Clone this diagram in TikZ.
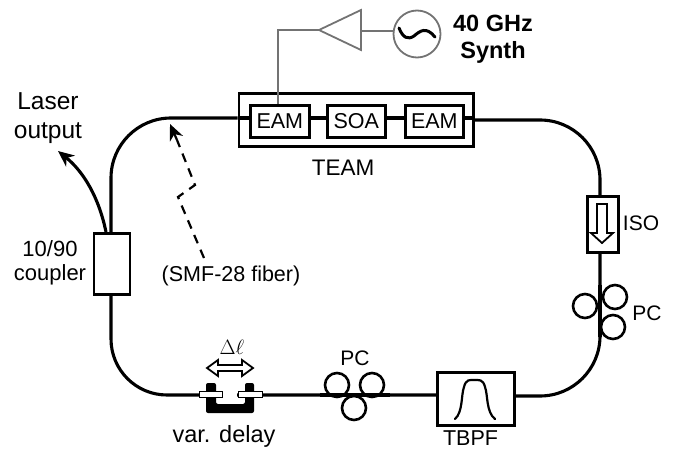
\documentclass[tikz,border=0pt]{standalone}
\usepackage{fontspec}
\setmainfont{Liberation Sans}
\usetikzlibrary{arrows.meta}
\newcommand{\fsz}[1]{\fontsize{#1}{#1}\selectfont}
\tikzset{
  x=1pt,y=-1pt,
  lbl/.style={inner sep=0pt,align=center,font=\fsz{21}},
  fiber/.style={line width=3.1pt,black},
  boxn/.style={draw,line width=2.6pt,fill=white,inner sep=0pt,anchor=north west},
  ring/.style={draw,circle,line width=2.6pt,minimum size=24pt,inner sep=0pt},
  rf/.style={line width=1.8pt,black!55},
  tipb/.style={-{Stealth[length=16pt,width=14pt,inset=5pt]}},
  hollow/.style={draw,line width=1.8pt,fill=white,line join=miter}
}
\begin{document}
\begin{tikzpicture}
\useasboundingbox (0,0) rectangle (674,449);
% named points
\coordinate (tl) at (111,118);
\coordinate (tr) at (600,120);
\coordinate (br) at (600,396);
\coordinate (bl) at (111,395);
% boxes
\node[boxn,minimum width=234.5pt,minimum height=53pt] (team) at (237.5,92) {};
\node[boxn,minimum width=59pt,minimum height=32pt,font=\fsz{21.5}] (eama) at (249,104) {EAM};
\node[boxn,minimum width=58pt,minimum height=32pt,font=\fsz{21.5}] (soa) at (326,104) {SOA};
\node[boxn,minimum width=58pt,minimum height=32pt,font=\fsz{21.5}] (eamb) at (404,104) {EAM};
\node[boxn,minimum width=31pt,minimum height=56pt] (iso) at (586,195) {};
\node[boxn,minimum width=77pt,minimum height=53pt] (tbpf) at (436,371) {};
\node[boxn,minimum width=36pt,minimum height=61pt] (coup) at (92.5,232) {};
% fiber loop
\draw[fiber] (eama.west |- tl) -- (team.west |- tl);
\draw[fiber] (eama.east |- tl) -- (soa.west |- tl);
\draw[fiber] (soa.east |- tl) -- (eamb.west |- tl);
\draw[fiber] (eamb.east |- tl) -- (team.east |- tl);
\draw[fiber,rounded corners=60pt] (coup.north -| tl) -- (tl) -- (team.west |- tl);
\draw[fiber,rounded corners=60pt] (team.east |- tr) -- (tr) -- (iso.north -| tr);
\draw[fiber,rounded corners=60pt] (iso.south -| tr) -- (br) -- (tbpf.east |- br);
\draw[fiber,rounded corners=56pt] (coup.south -| bl) -- (bl) -- (tbpf.west |- bl);
% output arrow
\draw[line width=3.1pt,tipb] (106,232) .. controls (99,198) and (84,172) .. (58,151);
% dashed arrow
\node[lbl,font=\fsz{21.5}] (smf) at (231,276) {(SMF-28 fiber)};
\coordinate (da) at (178,197);
\coordinate (db) at (195,185);
\coordinate (dc) at (170,124);
\draw[line width=2.2pt,dash pattern=on 9pt off 7pt] (204,258) -- (da) -- (db) -- (177,140);
\draw[line width=2.2pt,tipb] (177,140) -- (dc);
% RF chain
\node[draw,circle,rf,minimum size=47pt,inner sep=0pt] (syn) at (417,34) {};
\coordinate (ampt) at (319,30);
\coordinate (ampa) at (361,10);
\coordinate (ampb) at (361,50);
\draw[rf,line join=miter] (ampt) -- (ampa) -- (ampb) -- cycle;
\draw[rf] (ampt) -- (278,30) -- (278,104);
\draw[rf] (361,31) -- (394,31);
\draw[line width=3pt,line cap=round] (399,28) .. controls (403,38) and (408,40) .. (414,36) .. controls (420,31) and (426,26) .. (435,37);
% PCs
\node[ring] (pa) at (337,385) {};
\node[ring] (pb) at (372,385) {};
\node[ring] (pc) at (354,408) {};
\node[ring] (pd) at (585,306) {};
\node[ring] (pe) at (615,297) {};
\node[ring] (pf) at (613,327) {};
\draw[fiber] (320,395) -- (390,395);
\draw[fiber] (600,285) -- (600,337);
% var delay
\fill[white] (223,388) rectangle (237,400);
\fill[black,rounded corners=2pt] (206,383) -- (216,383) -- (216,404) -- (245,404) -- (245,383) -- (254,383) -- (254,413) -- (206,413) -- cycle;
\draw[fill=white,line width=1pt] (199,391) rectangle (222,397);
\draw[fill=white,line width=1pt] (238,391) rectangle (262,397);
% delta arrow
\draw[hollow] (207,368) -- (218,360) -- (218,365) -- (242,365) -- (242,360) -- (253,368) -- (242,376) -- (242,371) -- (218,371) -- (218,376) -- cycle;
% ISO arrow
\draw[hollow] (597,204) -- (607,204) -- (607,233) -- (613,233) -- (602,243) -- (591,233) -- (597,233) -- cycle;
% filter
\draw[line width=2.2pt,line cap=round] (455,419) .. controls (463,412) and (461,395) .. (464,387) .. controls (466,379) and (470,380) .. (474,380) .. controls (479,380) and (483,379) .. (485,387) .. controls (488,395) and (486,412) .. (495,419);
% labels
\node[lbl,font=\bfseries\fsz{23.5}] (syntxt) at (493,39) {40 GHz\\[4pt]Synth};
\node[lbl,font=\fsz{22.5}] (teamtxt) at (343,168) {TEAM};
\node[lbl] (isotxt) at (641,223) {ISO};
\node[lbl] (pctxt) at (647,313) {PC};
\node[lbl] (pctxtb) at (355,358) {PC};
\node[lbl,font=\fsz{21.5}] (tbpftxt) at (470.5,438) {TBPF};
\node[lbl,font=\fsz{23.5}] (vartxt) at (224,436) {var. delay};
\node[lbl,font=\fsz{22}] (cptxt) at (50,263) {10/90\hspace{12pt}\\[2pt]coupler};
\node[lbl,font=\fsz{24.5}] (lastxt) at (48,118) {Laser\\[5pt]output};
\node[lbl,font=\fsz{22}] (dltxt) at (232,347) {$\Delta\ell$};
\end{tikzpicture}
\end{document}
